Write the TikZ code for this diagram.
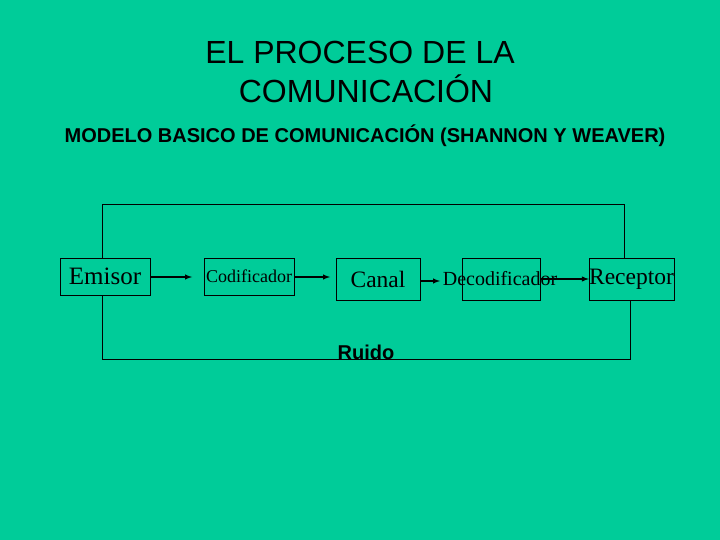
\documentclass[tikz,border=0pt]{standalone}
\usepackage{fontspec}
\setmainfont{Liberation Serif}
\newfontfamily\arialf{Liberation Sans}
\definecolor{bg}{HTML}{00CC99}
\begin{document}
\begin{tikzpicture}[x=1pt,y=-1pt,
  blk/.style={draw=black,fill=none,inner sep=0pt,font=\fontsize{23.5}{26}\selectfont},
  arr/.style={-latex,line width=1.4pt},
  ln/.style={line width=0.8pt}]
\fill[bg] (0,0) rectangle (720,540);
\useasboundingbox (0,0) rectangle (720,540);
\node[font=\arialf\fontsize{32}{36}\selectfont] (t1) at (360,52) {EL PROCESO DE LA};
\node[font=\arialf\fontsize{32}{36}\selectfont] (t2) at (366,89) {COMUNICACIÓN};
\node[font=\arialf\bfseries\fontsize{20}{23}\selectfont] (st) at (365,136) {MODELO BASICO DE COMUNICACIÓN (SHANNON Y WEAVER)};
\node[blk,minimum width=90,minimum height=37,font=\fontsize{25}{27}\selectfont] (em) at (105,276.5) {Emisor};
\node[blk,minimum width=90,minimum height=37,font=\fontsize{18}{20}\selectfont] (co) at (249,276.5) {Codificador};
\node[blk,minimum width=84,minimum height=42] (ca) at (378,279) {Canal};
\node[blk,minimum width=78,minimum height=42] (de) at (501,279) {};
\node[font=\fontsize{20}{22}\selectfont,inner sep=0pt] (dt) at (500,279) {Decodificador};
\node[blk,minimum width=83,minimum height=42] (re) at (631.5,279) {Receptor};
\node[font=\arialf\bfseries\fontsize{20}{23}\selectfont] (ru) at (366,352) {Ruido};
\coordinate (a1) at (192,277);
\coordinate (a2) at (330,277);
\coordinate (a3) at (440,281);
\draw[arr] (em.east |- a1) -- (a1);
\draw[arr] (co.east |- a2) -- (a2);
\draw[arr] (ca.east |- a3) -- (a3);
\draw[arr] (de.east |- re.west) -- (re.west);
\draw[ln] (em.north -| 102,0) -- (102,204) -- (624,204) -- (re.north -| 624,0);
\draw[ln] (em.south -| 102,0) -- (102,359) -- (630,359) -- (re.south -| 630,0);
\end{tikzpicture}
\end{document}
